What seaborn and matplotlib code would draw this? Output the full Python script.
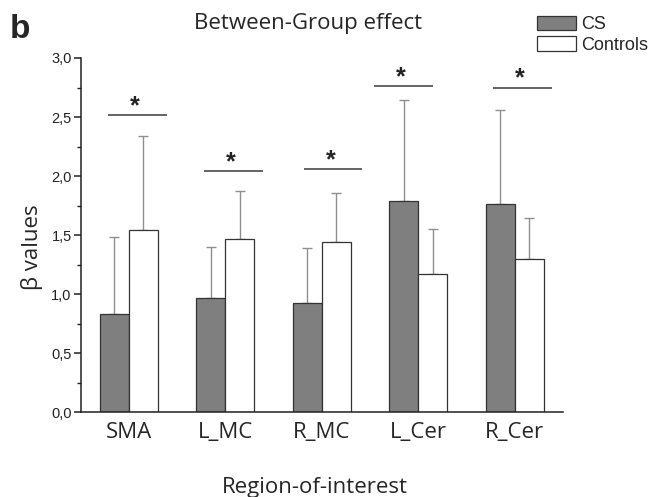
import numpy as np
import pandas as pd
import seaborn as sns
import matplotlib.pyplot as plt
from matplotlib.ticker import MultipleLocator, FuncFormatter

regions = ["SMA", "L_MC", "R_MC", "L_Cer", "R_Cer"]
groups = ["CS", "Controls"]
cs_means = [0.83, 0.97, 0.92, 1.79, 1.76]
cs_err = [0.65, 0.43, 0.47, 0.85, 0.80]
ctrl_means = [1.54, 1.47, 1.44, 1.17, 1.30]
ctrl_err = [0.80, 0.40, 0.42, 0.38, 0.34]
sig_heights = [2.52, 2.04, 2.06, 2.76, 2.75]
# where each significance bar starts, relative to the group centre
sig_shift = [-0.22, -0.22, -0.19, -0.46, -0.23]

df = pd.DataFrame({
    "region": regions * 2,
    "group": ["CS"] * 5 + ["Controls"] * 5,
    "beta": cs_means + ctrl_means,
})

sns.set_style("ticks")
plt.rcParams['font.family'] = ['Open Sans', 'DejaVu Sans']

fig = plt.figure(figsize=(6.48, 4.97), dpi=100)
ax = fig.add_axes([0.1245, 0.171, 0.7446, 0.7123])

sns.barplot(
    data=df, x="region", y="beta", hue="group",
    order=regions, hue_order=groups,
    palette={"CS": "#7f7f7f", "Controls": "#ffffff"},
    width=0.6, errorbar=None, edgecolor="#333333", linewidth=0.9,
    ax=ax, legend=False, zorder=2,
)

# upper error bars only, placed on the bars seaborn drew
errs = cs_err + ctrl_err
for patch, e in zip(ax.patches[:10], errs):
    xc = patch.get_x() + patch.get_width() / 2
    h = patch.get_height()
    ax.errorbar([xc], [h], yerr=[[0], [e]], fmt="none",
                ecolor="#8f8f8f", elinewidth=1.0, capsize=3.6,
                capthick=1.0, zorder=1)

# significance lines with asterisks
for i, (y, s) in enumerate(zip(sig_heights, sig_shift)):
    ax.plot([i + s, i + s + 0.61], [y, y], color="#4a4a4a", lw=1.2,
            solid_capstyle="butt")
    ax.text(i + s + 0.28, y + 0.015, "*", ha="center", va="baseline",
            fontsize=18, fontweight="bold", family=["Liberation Sans"],
            color="#222222")

ax.set_xlim(-0.5, 4.5)
ax.set_ylim(0, 3.0)
ax.yaxis.set_major_locator(MultipleLocator(0.5))
ax.yaxis.set_minor_locator(MultipleLocator(0.25))
ax.yaxis.set_major_formatter(FuncFormatter(lambda v, p: f"{v:.1f}".replace(".", ",")))
for lab in ax.get_yticklabels():
    lab.set_family(["Liberation Sans"])
ax.tick_params(axis="y", which="major", length=5, width=1.1, labelsize=10.5,
               direction="out", pad=1.5, colors="#222222")
ax.tick_params(axis="y", which="minor", length=2.6, width=1.0, direction="out",
               colors="#222222")
ax.tick_params(axis="x", length=0, labelsize=16, pad=7)
sns.despine(ax=ax)
for side in ["left", "bottom"]:
    ax.spines[side].set_linewidth(1.1)
    ax.spines[side].set_color("#222222")

ax.set_xlabel("")
ax.set_ylabel("")
fig.text(315 / 648, 1 - 493 / 497, "Region-of-interest", ha="center",
         va="baseline", fontsize=16)
fig.text(32 / 648, 1 - 247 / 497, "β values", ha="center", va="center",
         rotation=90, fontsize=16)

fig.text(308 / 648, 1 - 24 / 497, "Between-Group effect", ha="center",
         va="center", fontsize=16)
fig.text(10 / 648, 1 - 30 / 497, "b", ha="left", va="center", fontsize=24,
         fontweight="bold", family=["Liberation Sans"])

handles = [
    plt.Rectangle((0, 0), 1, 1, facecolor="#7f7f7f", edgecolor="#333333", lw=0.9),
    plt.Rectangle((0, 0), 1, 1, facecolor="#ffffff", edgecolor="#333333", lw=0.9),
]
fig.legend(handles, groups, loc="upper left",
           bbox_to_anchor=(537 / 648, 1 - 16 / 497),
           frameon=False, prop={"family": "Liberation Sans", "size": 13},
           handlelength=2.15, handleheight=0.85, handletextpad=0.3,
           labelspacing=0.15, borderaxespad=0, borderpad=0)

fig.savefig("out.png", dpi=100)
